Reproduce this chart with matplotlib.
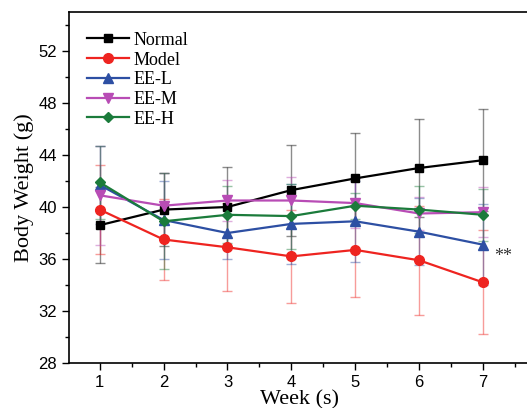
import matplotlib
matplotlib.use("Agg")
import matplotlib.pyplot as plt
from matplotlib.ticker import MultipleLocator

weeks = [1, 2, 3, 4, 5, 6, 7]
series_names = ["Normal", "Model", "EE-L", "EE-M", "EE-H"]
normal = [38.6, 39.8, 40.0, 41.3, 42.2, 43.0, 43.6]
normal_err = [2.9, 2.8, 3.1, 3.5, 3.5, 3.8, 3.9]
model = [39.8, 37.5, 36.9, 36.2, 36.7, 35.9, 34.2]
model_err = [3.4, 3.1, 3.4, 3.6, 3.6, 4.2, 4.0]
eel = [41.7, 39.0, 38.0, 38.7, 38.9, 38.1, 37.1]
eel_err = [3.0, 3.0, 2.0, 3.1, 3.1, 2.6, 3.1]
eem = [40.9, 40.1, 40.5, 40.5, 40.3, 39.5, 39.6]
eem_err = [3.8, 2.5, 1.6, 1.8, 1.9, 1.3, 1.9]
eeh = [41.9, 38.9, 39.4, 39.3, 40.1, 39.8, 39.4]
eeh_err = [2.8, 3.7, 2.2, 2.5, 1.0, 1.8, 2.0]

colors = ["#000000", "#ee2420", "#2d4fa3", "#b84cb5", "#1b7b3b"]
markers = ["s", "o", "^", "v", "D"]
msizes = [5.5, 7, 7, 7, 5.5]
values = [normal, model, eel, eem, eeh]
errors = [normal_err, model_err, eel_err, eem_err, eeh_err]

fig = plt.figure(figsize=(5.27, 4.08), dpi=100)
ax = fig.add_axes([69/527, 45/408, 462/527, 351/408])

for v, e, c in zip(values, errors, colors):
    ax.errorbar(weeks, v, yerr=e, fmt='none', ecolor=c, alpha=0.45,
                elinewidth=1.0, capsize=3.5, capthick=1.0, zorder=1)
for name, v, c, m, ms in zip(series_names, values, colors, markers, msizes):
    ax.plot(weeks, v, color=c, marker=m, markersize=ms, linewidth=1.6,
            label=name, zorder=3)

ax.text(7.17, 36.2, "**", fontsize=13, family="Liberation Serif",
        color="#333333", va="center", ha="left")

ax.set_xlim(0.52, 7.75)
ax.set_ylim(28, 55)
ax.xaxis.set_major_locator(MultipleLocator(1))
ax.xaxis.set_minor_locator(MultipleLocator(0.5))
ax.yaxis.set_major_locator(MultipleLocator(4))
ax.yaxis.set_minor_locator(MultipleLocator(2))
ax.tick_params(which='major', direction='out', length=5, width=1.0,
               labelsize=12)
ax.tick_params(which='minor', direction='out', length=3, width=1.0)
for lab in ax.get_xticklabels() + ax.get_yticklabels():
    lab.set_family("Liberation Sans")
for s in ax.spines.values():
    s.set_linewidth(1.2)
ax.spines['right'].set_visible(False)

ax.set_xlabel("Week (s)", family="Liberation Serif", fontsize=16, labelpad=0)
ax.set_ylabel("Body Weight (g)", family="Liberation Serif", fontsize=16,
              labelpad=3)

leg = ax.legend(loc="upper left", frameon=False, handlelength=2.3,
                prop={"family": "Liberation Serif", "size": 13},
                borderaxespad=0.6, labelspacing=0.15, handletextpad=0.3,
                bbox_to_anchor=(0.0, 0.995))

fig.savefig("out.png", dpi=100)
